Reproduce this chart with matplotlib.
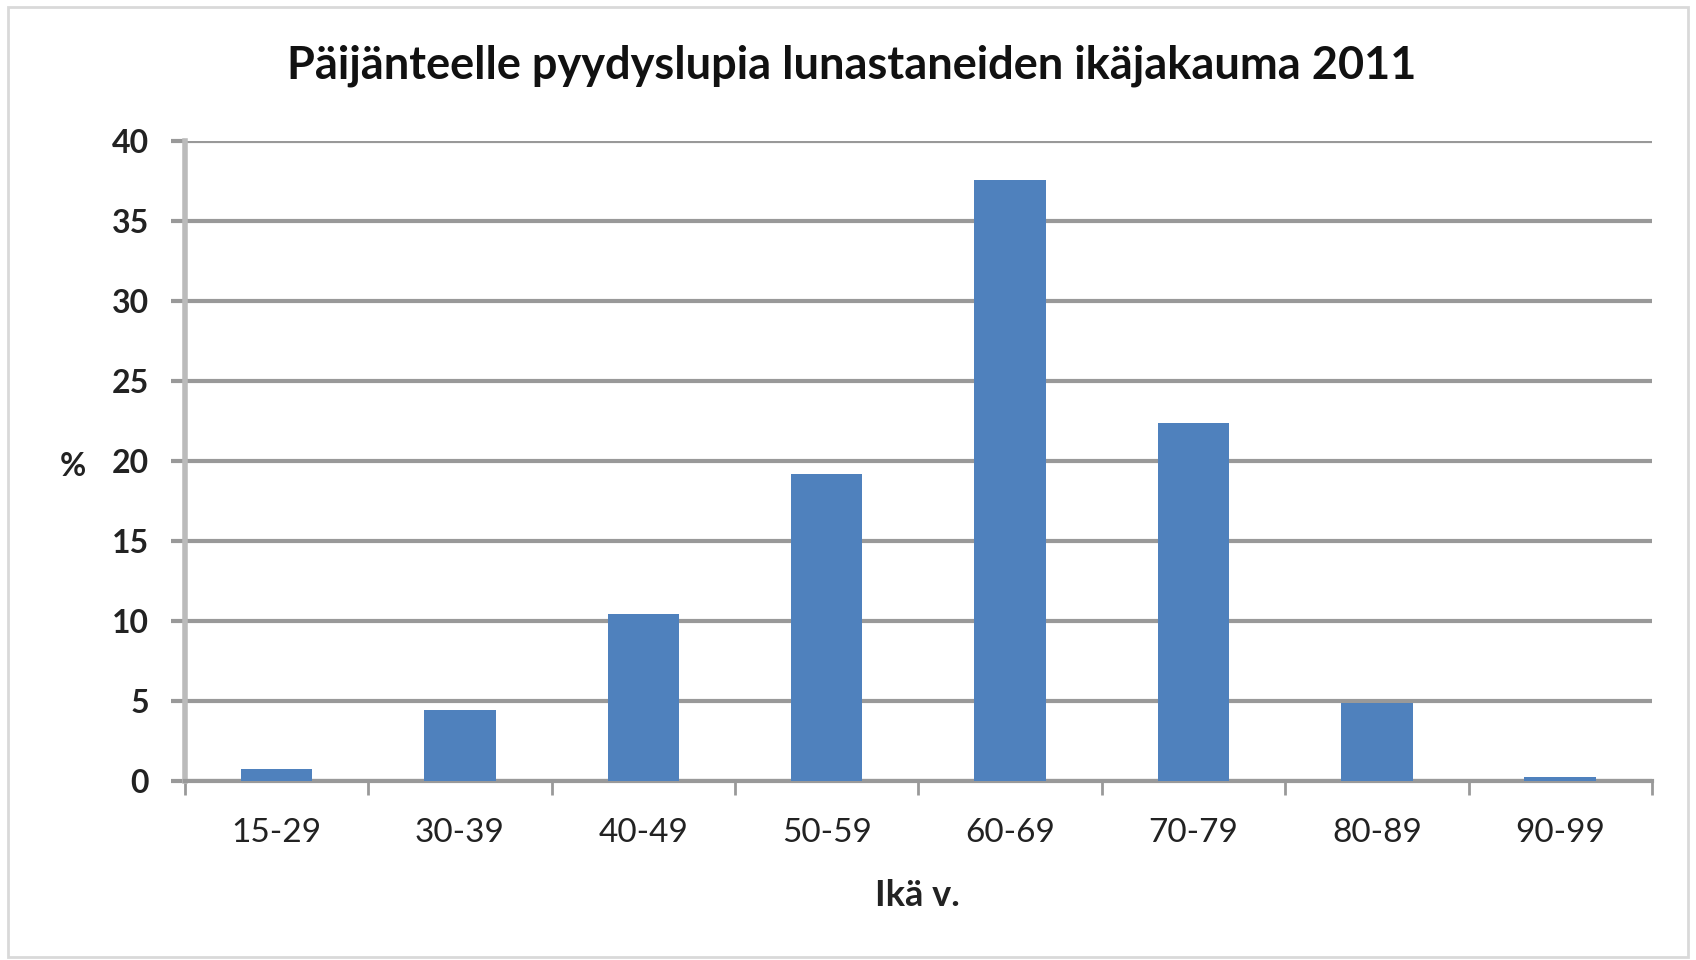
import matplotlib.pyplot as plt
from matplotlib.patches import Rectangle

# age groups and share of permit buyers (%)
ages = ['15-29', '30-39', '40-49', '50-59', '60-69', '70-79', '80-89', '90-99']
share = [0.8, 4.45, 10.45, 19.2, 37.6, 22.4, 4.9, 0.3]
yticks = [0, 5, 10, 15, 20, 25, 30, 35, 40]

plt.rcParams['font.family'] = ['Lato', 'DejaVu Sans']

fig = plt.figure(figsize=(16.96, 9.6), dpi=100)
ax = fig.add_axes([0.109, 0.186, 0.865, 0.667])

x = list(range(len(ages)))
ax.bar(x, share, width=0.39, color='#4F81BD', zorder=3)

ax.set_xlim(-0.5, len(ages) - 0.5)
ax.set_ylim(0, 40)
ax.set_yticks(yticks)
ax.set_yticklabels([str(v) for v in yticks], fontsize=23, fontweight='bold', color='#222222')
ax.yaxis.grid(True, color='#999999', linewidth=3, zorder=0)
ax.set_axisbelow(True)

# category labels centered, ticks on boundaries
ax.set_xticks(x)
ax.set_xticklabels(ages, fontsize=24, color='#222222')
ax.tick_params(axis='x', length=0, pad=26)
ax.set_xticks([i - 0.5 for i in range(len(ages) + 1)], minor=True)
ax.tick_params(axis='x', which='minor', length=10, width=2, color='#999999')
ax.tick_params(axis='y', length=10, width=3, color='#999999', pad=16)

for s in ['top', 'right']:
    ax.spines[s].set_visible(False)
ax.spines['left'].set_color('#bbbbbb')
ax.spines['left'].set_linewidth(4)
ax.spines['bottom'].set_color('#999999')
ax.spines['bottom'].set_linewidth(3)

fig.text(0.502, 0.932, 'Päijänteelle pyydyslupia lunastaneiden ikäjakauma 2011',
         ha='center', va='center', fontsize=32.5, fontweight='bold', color='#111111')
fig.text(0.043, 0.514, '%', ha='center', va='center', fontsize=23, fontweight='bold', color='#222222')
fig.text(0.541, 0.067, 'Ikä v.', ha='center', va='center', fontsize=26, fontweight='bold', color='#222222')

fig.patches.append(Rectangle((0.005, 0.003), 0.99, 0.99, transform=fig.transFigure,
                             fill=False, edgecolor='#d9d9d9', linewidth=2))

plt.savefig('out.png', dpi=100)
